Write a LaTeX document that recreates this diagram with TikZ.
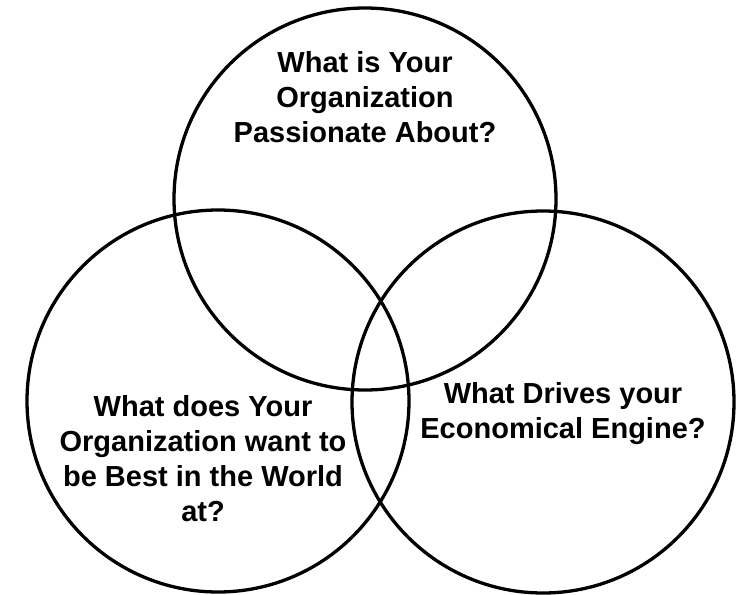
\documentclass[tikz,border=0pt]{standalone}
\usepackage{fontspec}
\setmainfont{Liberation Sans}
\begin{document}
\begin{tikzpicture}[x=1pt,y=-1pt,
  ring/.style={draw=black, line width=3.3pt, circle, minimum size=382pt, inner sep=0pt},
  qtext/.style={font=\bfseries\fontsize{29}{35}\selectfont, align=center, inner sep=0pt}]
  \path[use as bounding box] (0,0) rectangle (738,594);
  % the three overlapping circles
  \node[ring] (passion) at (365,199) {};
  \node[ring] (best) at (218,401) {};
  \node[ring] (engine) at (543,402) {};
  % questions
  \node[qtext] (qpassion) at (365,97.5) {What is Your\\Organization\\Passionate About?};
  \node[qtext] (qbest) at (203,459) {What does Your\\Organization want to\\be Best in the World\\at?};
  \node[qtext] (qengine) at (563,414) {What Drives your\\Economical Engine?};
\end{tikzpicture}
\end{document}
